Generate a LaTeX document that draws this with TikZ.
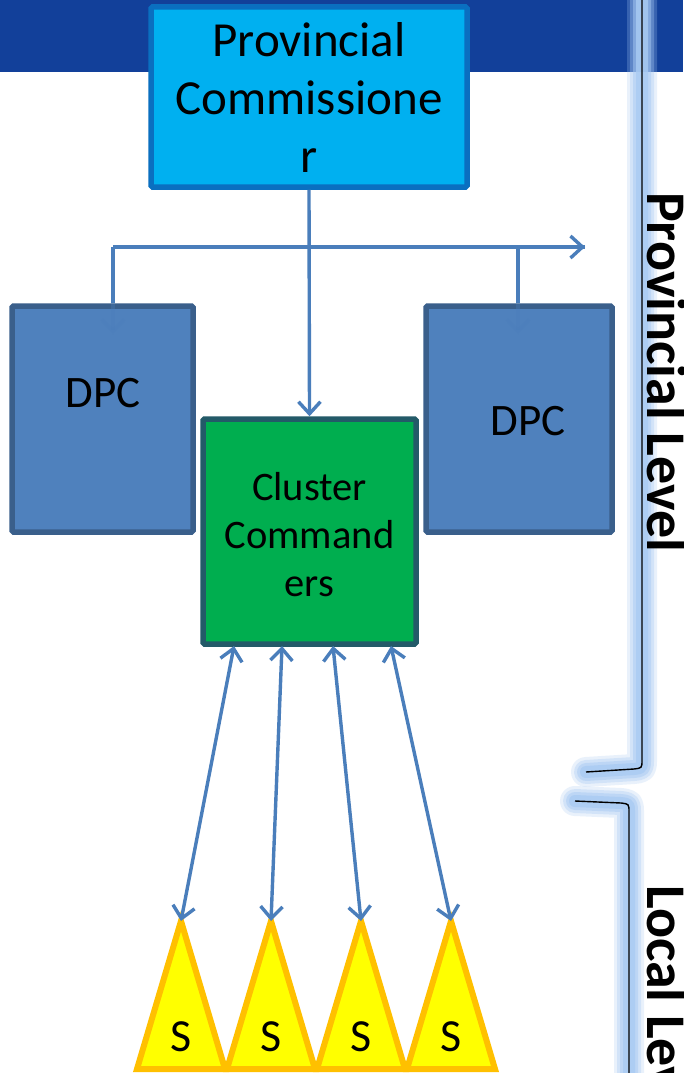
\documentclass[tikz,border=0pt]{standalone}
\usepackage{fontspec}
\setmainfont{Carlito}
\usetikzlibrary{arrows.meta}
\definecolor{bandblue}{HTML}{12409A}
\definecolor{pcfill}{HTML}{00B0F0}
\definecolor{pcedge}{HTML}{0A6FC0}
\definecolor{dpcfill}{HTML}{4F81BD}
\definecolor{dpcedge}{HTML}{3A5F8B}
\definecolor{ccfill}{HTML}{00AE4F}
\definecolor{ccedge}{HTML}{235A68}
\definecolor{link}{HTML}{4A7EBB}
\definecolor{glow}{HTML}{A9CBF3}
\definecolor{sfill}{HTML}{FFFF00}
\definecolor{sedge}{HTML}{FFC000}
\tikzset{
  x=1pt, y=-1pt,
  box/.style={draw, line width=5.5pt, rounded corners=1.5pt, inner sep=0pt, align=center},
  link/.style={draw=link, line width=3.4pt},
  tip/.style={-{Straight Barb[length=12pt,width=22pt,line width=3.4pt]}},
  bothtips/.style={{Straight Barb[length=12pt,width=22pt,line width=3.4pt]}-{Straight Barb[length=12pt,width=22pt,line width=3.4pt]}},
  bracket/.style={draw=black, line width=1.4pt},
  glowline/.style={draw=glow, line cap=round, line join=round},
  leveltext/.style={font=\fontsize{56}{60}\selectfont\bfseries, rotate=-90, anchor=south west, inner sep=0pt},
  stri/.style={draw=sedge, fill=sfill, line width=6pt, line join=miter},
  slabel/.style={font=\fontsize{46}{48}\selectfont}
}
\begin{document}
\begin{tikzpicture}
\useasboundingbox (0,0) rectangle (683,1073);
\fill[white] (0,0) rectangle (683,1073);
% header band
\fill[bandblue] (0,0) rectangle (683,72);

% glowing level brackets
\foreach \w/\o in {30/0.25,24/0.35,18/0.5,12/0.8}{
  \path[glowline, line width=\w pt, opacity=\o]
    (642,-20) -- (642,760) .. controls (642,768) .. (634,769) -- (586,772);
  \path[glowline, line width=\w pt, opacity=\o]
    (575,801) -- (621,803) .. controls (629,804) .. (629,812) -- (629,1090);
}
\path[bracket] (642,0) -- (642,760) .. controls (642,768) .. (634,769) -- (586,772);
\path[bracket] (575,801) -- (621,803) .. controls (629,804) .. (629,812) -- (629,1073);

% level labels
\node[leveltext] (provlevel) at (647,192) {Provincial Level};
\node[leveltext] (locallevel) at (647,885) {Local Level};

% boxes
\node[box, draw=pcedge, fill=pcfill, minimum width=316pt, minimum height=180pt,
      font=\fontsize{49}{59}\selectfont] (pc) at (309,97)
      {Provincial\\[-1pt]Commissione\\[-1pt]r};
\node[box, draw=dpcedge, fill=dpcfill, minimum width=181pt, minimum height=226pt] (dpcl) at (102.5,419) {};
\node[font=\fontsize{45}{48}\selectfont, inner sep=0pt] (dpcltext) at (103,393) {DPC};
\node[box, draw=dpcedge, fill=dpcfill, minimum width=186pt, minimum height=226pt] (dpcr) at (519,419) {};
\node[font=\fontsize{45}{48}\selectfont, inner sep=0pt] (dpcrtext) at (528,421) {DPC};
\node[box, draw=ccedge, fill=ccfill, minimum width=213pt, minimum height=225pt] (cc) at (309.5,531.5) {};
\node[font=\fontsize{40.5}{48}\selectfont, align=center, inner sep=0pt] (cctext) at (309.5,535)
      {Cluster\\Command\\ers};

% distribution line from the commissioner
\coordinate (lbranch) at (113,247);
\coordinate (rbranch) at (518,247);
\coordinate (rend) at (585,247);
\coordinate (lin) at (113,334);
\coordinate (rin) at (518,334);
\path[link] (lbranch) -- (rend);
\path[link, tip] (rbranch) -- (rend);
\path[link, tip] (pc.south) -- (cc.north);
\path[link] (lbranch) -- (dpcl.north -| lbranch);
\path[link] (rbranch) -- (dpcr.north -| rbranch);
\path[link, tip, opacity=0.35] (dpcl.north -| lbranch) -- (lin);
\path[link, tip, opacity=0.35] (dpcr.north -| rbranch) -- (rin);

% stations
\foreach \i/\cx in {1/181,2/271,3/361,4/451}{
  \coordinate (apex\i) at (\cx,921);
  \path[stri] (\cx,921) -- (\cx-44,1069) -- (\cx+44,1069) -- cycle;
  \node[slabel] (s\i) at (\cx,1037) {S};
}

% links between cluster commanders and stations
\coordinate (c1) at (234,646);
\coordinate (c2) at (282,646);
\coordinate (c3) at (333,646);
\coordinate (c4) at (391,646);
\foreach \i in {1,...,4}{
  \path[link, bothtips] (c\i) -- (apex\i);
}
\end{tikzpicture}
\end{document}
